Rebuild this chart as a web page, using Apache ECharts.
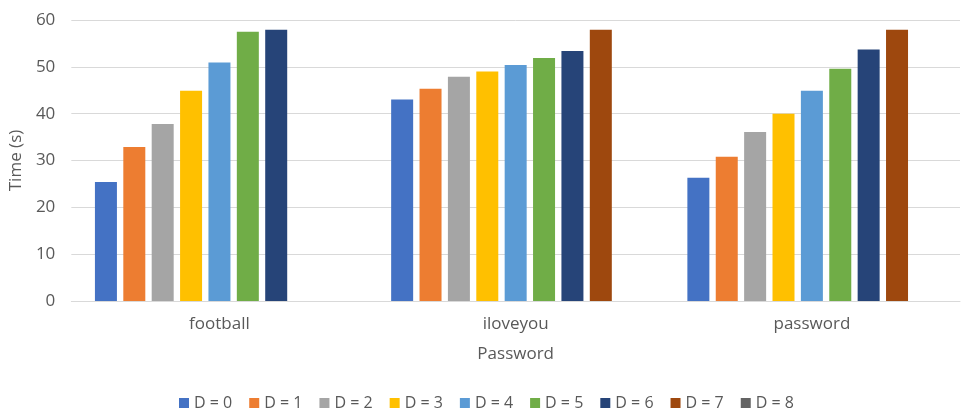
<!DOCTYPE html>
<html>
<head>
<meta charset="utf-8">
<script src="https://cdn.jsdelivr.net/npm/echarts@6/dist/echarts.min.js"></script>
<style>
  html, body { margin: 0; padding: 0; background: #fff; }
  #chart { width: 966px; height: 411px; }
</style>
</head>
<body>
<div id="chart"></div>
<script>
const passwords = ["football", "iloveyou", "password"];
const seriesNames = ["D = 0", "D = 1", "D = 2", "D = 3", "D = 4", "D = 5", "D = 6", "D = 7", "D = 8"];
const d0 = [25.4, 43.0, 26.3];
const d1 = [32.9, 45.3, 30.8];
const d2 = [37.8, 47.9, 36.1];
const d3 = [44.9, 49.0, 40.0];
const d4 = [50.9, 50.4, 44.9];
const d5 = [57.5, 51.9, 49.6];
const d6 = [57.9, 53.4, 53.7];
const d7 = [null, 57.9, 57.9];
const d8 = [null, null, null];
const yTicks = [0, 10, 20, 30, 40, 50, 60];

const colors = ["#4472C4", "#ED7D31", "#A5A5A5", "#FFC000", "#5B9BD5", "#70AD47", "#264478", "#9E480E", "#636363"];
const values = [d0, d1, d2, d3, d4, d5, d6, d7, d8];
const font = "'Open Sans', sans-serif";
const textColor = "#595959";

const series = seriesNames.map((name, i) => ({
  name: name,
  type: "bar",
  data: values[i],
  barWidth: 22,
  barGap: "29%",
  itemStyle: { color: colors[i] }
}));

const option = {
  animation: false,
  color: colors,
  textStyle: { fontFamily: font },
  grid: { left: 69, right: 6, top: 20, bottom: 110 },
  legend: {
    left: 174,
    top: 390,
    itemWidth: 10,
    itemHeight: 10,
    itemGap: 17,
    icon: "rect",
    textStyle: { color: textColor, fontSize: 16, fontFamily: font },
    data: seriesNames
  },
  xAxis: {
    type: "category",
    data: passwords,
    name: "Password",
    nameLocation: "middle",
    nameGap: 45,
    nameTextStyle: { color: textColor, fontSize: 17, fontFamily: font },
    axisLine: { lineStyle: { color: "#d9d9d9", width: 1 } },
    axisTick: { show: false },
    axisLabel: { color: textColor, fontSize: 17, margin: 15, fontFamily: font }
  },
  yAxis: {
    type: "value",
    min: yTicks[0],
    max: yTicks[yTicks.length - 1],
    interval: 10,
    name: "Time (s)",
    nameLocation: "middle",
    nameGap: 41,
    nameTextStyle: { color: textColor, fontSize: 17, fontFamily: font },
    axisLine: { show: false },
    axisTick: { show: false },
    axisLabel: { color: textColor, fontSize: 17, margin: 16, fontFamily: font },
    splitLine: { lineStyle: { color: "#d9d9d9", width: 1 } }
  },
  series: series
};

const chart = echarts.init(document.getElementById("chart"));
chart.setOption(option, true);
window.onresize = function () {
  chart.resize();
};
</script>
</body>
</html>
